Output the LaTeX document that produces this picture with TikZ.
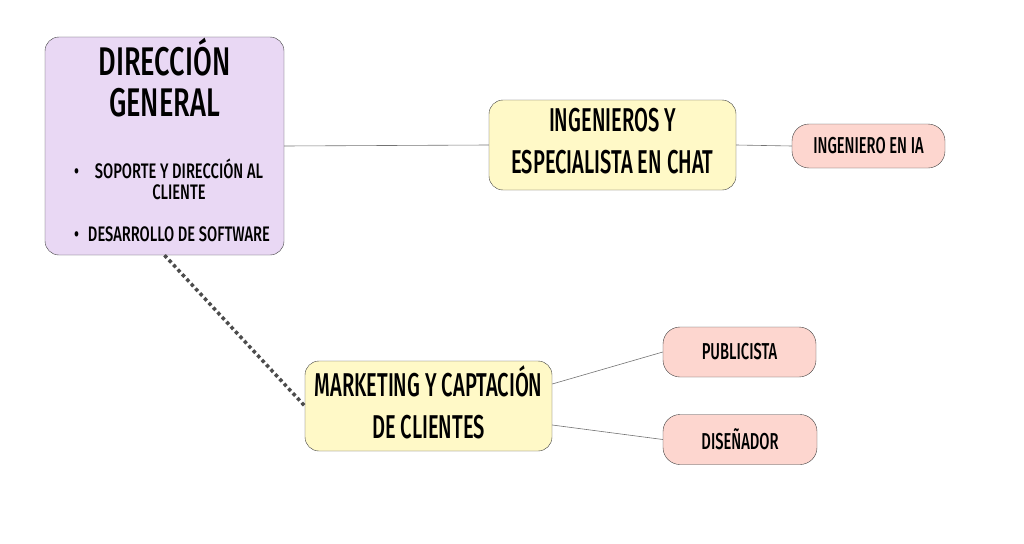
\documentclass[tikz,border=0pt]{standalone}
\usepackage{fontspec}
\setmainfont{Fira Sans Medium}[FakeStretch=0.61]
\newfontfamily\titulofont{Fira Sans Medium}[FakeStretch=0.68]
\newfontfamily\listafont{Fira Sans Medium}[FakeStretch=0.7]
\newfontfamily\puestofont{Fira Sans Medium}[FakeStretch=0.64]
\usetikzlibrary{positioning}
\definecolor{lila}{HTML}{E9D8F4}
\definecolor{crema}{HTML}{FFF9C7}
\definecolor{rosa}{HTML}{FDD6CF}
\tikzset{
    jefe/.style={draw=black!75,fill=lila,rounded corners=14pt,minimum width=239pt,minimum height=218pt,inner sep=0pt},
    area/.style={draw=black!75,fill=crema,rounded corners=14pt,minimum width=247pt,minimum height=90pt,align=center,text depth=8pt,font=\fontsize{33}{42}\selectfont},
    puesto/.style={draw=black!75,fill=rosa,rounded corners=17pt,minimum width=153pt,minimum height=50pt,font=\puestofont\fontsize{23}{23}\selectfont},
    rama/.style={draw=black!55,semithick},
    punteado/.style={draw=black!70,line width=3.5pt,dash pattern=on 3.5pt off 3pt}
}

\begin{document}
\begin{tikzpicture}[x=1pt,y=-1pt]
    \useasboundingbox (0,0) rectangle (1024,543);

    \node[jefe]   (direccion) at (164.5,146) {};
    \node         (titulo) [align=center,font=\titulofont\fontsize{40}{41}\selectfont] at (164.5,78) {DIRECCIÓN\\GENERAL};
    \node         (tareas) [font=\listafont\fontsize{21}{19}\selectfont] at (172,203)
        {\begin{tabular}{@{}c@{\hspace{9pt}}c@{}}
            \textbullet & SOPORTE Y DIRECCIÓN AL\\
                        & CLIENTE\\[21pt]
            \textbullet & DESARROLLO DE SOFTWARE
        \end{tabular}};

    \node[area]   (ingenieros) at (612.5,145) {INGENIEROS Y\\ESPECIALISTA EN CHAT};
    \node[puesto] (ia) [minimum height=44pt] at (868.5,146) {INGENIERO EN IA};

    \node[area]   (marketing) at (428.5,406) {MARKETING Y CAPTACIÓN\\DE CLIENTES};
    \node[puesto] (publicista) at (739.5,352) {PUBLICISTA};
    \node[puesto] (disenador) [minimum width=154pt] at (740,439.5) {DISEÑADOR};

    \draw[rama] (direccion.east) -- (ingenieros.west);
    \draw[rama] (ingenieros.east) -- (ia.west);
    \draw[punteado] (direccion.south) -- (marketing.west);
    \draw[rama] ([yshift=22pt]marketing.east) -- (publicista.west);
    \draw[rama] ([yshift=-19pt]marketing.east) -- (disenador.west);
\end{tikzpicture}
\end{document}
